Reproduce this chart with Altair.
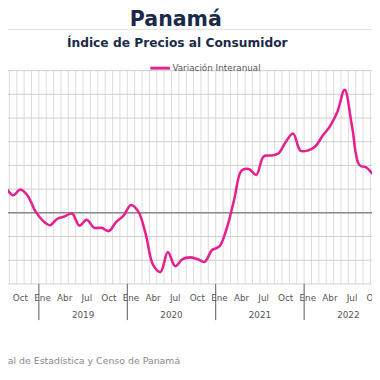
import altair as alt
import pandas as pd

# Months indexed from Ene 2019 = 0
month_idx = list(range(-7, 47))
variacion = [1.40, 1.33, 1.05, 0.74, 0.98, 0.71, 0.08,
             -0.32, -0.52, -0.25, -0.15, -0.03, -0.54, -0.29, -0.63, -0.63, -0.77, -0.38, -0.12,
             0.33, 0.05, -0.90, -2.20, -2.50, -1.65, -2.25, -1.95, -1.88, -1.95, -2.07, -1.57,
             -1.42, -0.65, 0.55, 1.78, 1.85, 1.60, 2.38, 2.42, 2.50, 2.99, 3.35, 2.62,
             2.63, 2.80, 3.25, 3.65, 4.25, 5.19, 3.65, 2.02, 1.90, 1.60, 1.50]

mes_nombres = ["Ene", "Feb", "Mar", "Abr", "May", "Jun", "Jul", "Ago", "Sep", "Oct", "Nov", "Dic"]
anios = [2018, 2019, 2020, 2021, 2022]
y_ticks = [-3, -2, -1, 0, 1, 2, 3, 4, 5, 6]

W, H = 372, 218
x_dom = [-4.69, 44.71]
PINK = "#E6208E"
NAVY = "#1B2A47"
FONT = "DejaVu Sans"

df = pd.DataFrame({"m": month_idx, "v": variacion, "serie": "Variación Interanual"})

xs = alt.Scale(domain=x_dom, nice=False, zero=False)
ys = alt.Scale(domain=[-3, 6], nice=False, zero=False)

grid_df = pd.DataFrame({"b": [k - 0.5 for k in range(-7, 47)]})
vgrid = alt.Chart(grid_df).mark_rule(color="#dcdcdc", strokeWidth=1, clip=True).encode(
    x=alt.X("b:Q", scale=xs, axis=None))

hgrid_df = pd.DataFrame({"t": y_ticks})
hgrid = alt.Chart(hgrid_df).mark_rule(color="#cfcfcf", strokeWidth=1).encode(
    y=alt.Y("t:Q", scale=ys, axis=None))
zero = alt.Chart(pd.DataFrame({"t": [0]})).mark_rule(color="#8a8a8a", strokeWidth=1.5).encode(
    y=alt.Y("t:Q", scale=ys, axis=None))

line = alt.Chart(df).mark_line(interpolate="catmull-rom", strokeWidth=2.6, clip=True).encode(
    x=alt.X("m:Q", scale=xs, axis=None),
    y=alt.Y("v:Q", scale=ys, axis=None),
    color=alt.Color("serie:N", scale=alt.Scale(range=[PINK]),
                    legend=alt.Legend(title=None, orient="none", legendX=144, legendY=-14,
                                      symbolType="stroke", symbolSize=400, symbolStrokeWidth=3,
                                      labelFont=FONT, labelFontSize=9, labelColor="#555555",
                                      labelOffset=1)))

lab_rows = []
for m in range(-6, 47, 3):
    lab_rows.append({"m": m, "lab": mes_nombres[m % 12]})
lab_df = pd.DataFrame(lab_rows)
mlabels = alt.Chart(lab_df).mark_text(font=FONT, fontSize=9, color="#555555", baseline="middle").encode(
    x=alt.X("m:Q", scale=xs, axis=None), y=alt.value(H + 14), text="lab:N")

yr_df = pd.DataFrame({"m": [(a - 2019) * 12 + 5.5 for a in anios], "a": [str(a) for a in anios]})
ylabels = alt.Chart(yr_df).mark_text(font=FONT, fontSize=9, color="#555555", baseline="middle").encode(
    x=alt.X("m:Q", scale=xs, axis=None), y=alt.value(H + 32), text="a:N")

sep_df = pd.DataFrame({"m": [(a - 2019) * 12 - 0.5 for a in anios]})
seps = alt.Chart(sep_df).mark_rule(color="#555555", strokeWidth=1).encode(
    x=alt.X("m:Q", scale=xs, axis=None), y=alt.value(H), y2=alt.value(H + 37))

base = alt.Chart(pd.DataFrame({"k": [0]}))
hr = base.mark_rule(color="#e0e0e0", strokeWidth=1).encode(
    x=alt.value(0), x2=alt.value(W), y=alt.value(-42))
t1 = base.mark_text(font=FONT, fontSize=21, fontWeight="bold", color=NAVY, align="center",
                    baseline="alphabetic").encode(x=alt.value(171.5), y=alt.value(-46),
                                                   text=alt.value("Panamá"))
t2 = base.mark_text(font=FONT, fontSize=12.5, fontWeight="bold", color=NAVY, align="center",
                    baseline="alphabetic").encode(x=alt.value(173), y=alt.value(-24),
                                                   text=alt.value("Índice de Precios al Consumidor"))
src = base.mark_text(font=FONT, fontSize=9.6, color="#8a8a8a", align="right",
                     baseline="alphabetic").encode(
    x=alt.value(176), y=alt.value(300),
    text=alt.value("Fuente: Instituto Nacional de Estadística y Censo de Panamá"))

chart = alt.layer(vgrid, hgrid, zero, line, mlabels, ylabels, seps, hr, t1, t2, src).properties(
    width=W, height=H,
    autosize=alt.AutoSizeParams(type="none"),
    padding={"left": 0, "right": 0, "top": 60, "bottom": 85},
).configure_view(stroke=None)

chart.save("out.html", embed_options={"renderer": "svg", "actions": False})
